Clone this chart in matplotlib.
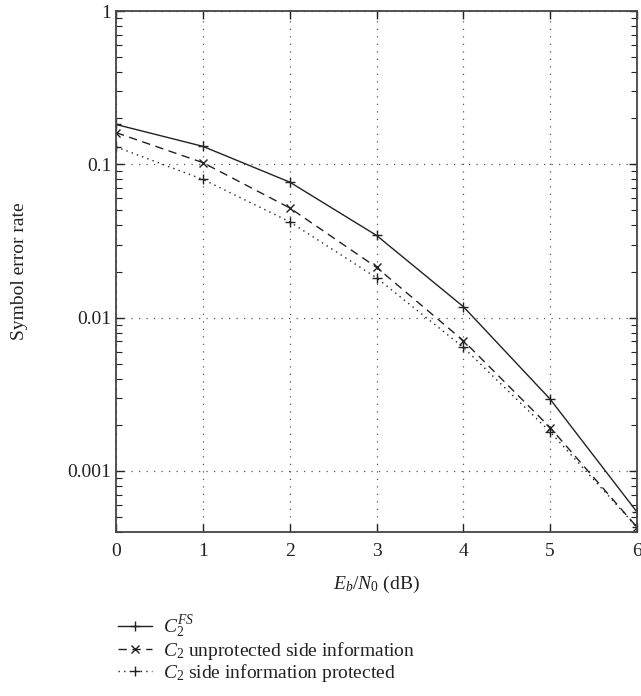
import matplotlib
matplotlib.use("Agg")
import matplotlib.pyplot as plt
from matplotlib.ticker import FixedLocator, LogLocator, NullFormatter, FixedFormatter

plt.rcParams['font.family'] = ['Liberation Serif', 'DejaVu Serif']
plt.rcParams['mathtext.fontset'] = 'custom'
plt.rcParams['mathtext.rm'] = 'Liberation Serif'
plt.rcParams['mathtext.it'] = 'Liberation Serif:italic'

ebn0 = [0, 1, 2, 3, 4, 5, 6]
ser_fs = [0.182, 0.131, 0.0766, 0.0344, 0.0118, 0.00294, 0.00054]
ser_unprot = [0.161, 0.1026, 0.052, 0.0213, 0.00708, 0.00192, 0.00043]
ser_prot = [0.130, 0.0798, 0.0422, 0.0182, 0.0064, 0.0018, 0.00043]

labels = [r'$C_2^{FS}$',
          r'$C_2$ unprotected side information',
          r'$C_2$ side information protected']

fig = plt.figure(figsize=(6.41, 6.96), dpi=100)
ax = fig.add_axes([116 / 641, 1 - 532 / 696, 521 / 641, 521 / 696])

ax.plot(ebn0, ser_fs, color='#222222', lw=1.0, ls='-', marker='+', ms=7, mew=1.0, label=labels[0])
ax.plot(ebn0, ser_unprot, color='#222222', lw=1.0, ls=(0, (6, 4)), marker='x', ms=6, mew=1.0, label=labels[1])
ax.plot(ebn0, ser_prot, color='#222222', lw=1.0, ls=(0, (1, 3)), marker='+', ms=7, mew=1.0, label=labels[2])

ax.set_yscale('log')
ax.set_xlim(0, 6)
ax.set_ylim(4e-4, 1)
ax.set_xticks(ebn0)
ax.yaxis.set_major_locator(FixedLocator([0.001, 0.01, 0.1, 1]))
ax.yaxis.set_major_formatter(FixedFormatter(['0.001', '0.01', '0.1', '1']))
ax.yaxis.set_minor_locator(LogLocator(base=10, subs=range(2, 10)))
ax.yaxis.set_minor_formatter(NullFormatter())

ax.grid(True, which='major', ls=(0, (1, 5)), color='#555555', lw=0.9)
ax.tick_params(which='both', direction='in', top=True, right=True, labelsize=14, colors='#222222')
ax.tick_params(which='major', length=6, width=1.0)
ax.tick_params(which='minor', length=4, width=0.8)
ax.tick_params(axis='x', pad=8)
for s in ax.spines.values():
    s.set_color('#444444')
    s.set_linewidth(1.3)

ax.set_xlabel(r'$E_b/N_0$ (dB)', fontsize=14, color='#222222', labelpad=10)
ax.set_ylabel('Symbol error rate', fontsize=14, color='#222222', labelpad=28)

leg = fig.legend(loc='upper left', bbox_to_anchor=(108 / 641, 1 - 604 / 696), frameon=False,
                 fontsize=14, handlelength=1.75, handletextpad=0.6, labelspacing=0.0, borderpad=0)
for t in leg.get_texts():
    t.set_color('#222222')

fig.savefig('out.png', dpi=100)
